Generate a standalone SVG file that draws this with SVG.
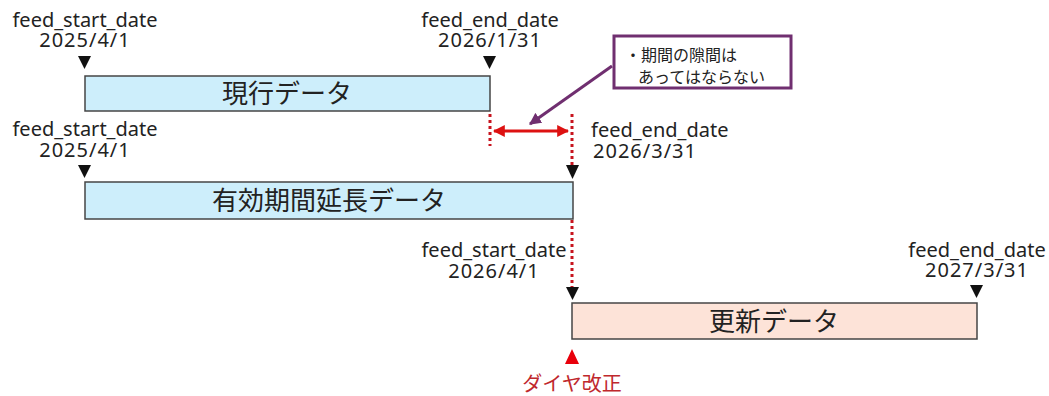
<svg xmlns="http://www.w3.org/2000/svg" width="1049" height="396" viewBox="0 0 1049 396">
<defs>
<style>
.lbl{font-family:"Noto Sans","Noto Sans CJK JP",sans-serif;font-size:20px;fill:#222;}
.dt{letter-spacing:1px;}
.bar-t{font-family:"Noto Sans CJK JP","Noto Sans",sans-serif;font-size:26px;fill:#222;text-anchor:middle;}
.blue{fill:#cdeefb;stroke:#454545;stroke-width:1.5;}
.pink{fill:#fde3d8;stroke:#454545;stroke-width:1.5;}
.tri{fill:#111;}
.dot{stroke:#c8141e;stroke-width:3;stroke-dasharray:3 3;fill:none;}
.note{font-family:"Noto Sans CJK JP",sans-serif;font-size:16px;fill:#222;}
</style>
<marker id="ra" viewBox="0 0 10 10" refX="9" refY="5" markerWidth="4" markerHeight="4" orient="auto-start-reverse">
<path d="M0,0 L10,5 L0,10 z" fill="#dd1111"/>
</marker>
<marker id="pa" viewBox="0 0 10 10" refX="9" refY="5" markerWidth="4" markerHeight="4" orient="auto">
<path d="M0,0 L10,5 L0,10 z" fill="#702f70"/>
</marker>
</defs>
<rect width="1049" height="396" fill="#fff"/>
<g id="connectors">
<line class="dot" x1="490" y1="114" x2="490" y2="146"/>
<line class="dot" x1="572" y1="114" x2="572" y2="172"/>
<line class="dot" x1="572" y1="220" x2="572" y2="294"/>
<line x1="494" y1="131" x2="568" y2="131" stroke="#dd1111" stroke-width="3" marker-start="url(#ra)" marker-end="url(#ra)"/>
<line x1="612" y1="66" x2="530" y2="124" stroke="#702f70" stroke-width="3" marker-end="url(#pa)"/>
</g>
<g id="current">
<text class="lbl" x="85" y="27" text-anchor="middle">feed_start_date</text>
<text class="lbl dt" x="85" y="47" text-anchor="middle">2025/4/1</text>
<path class="tri" d="M78,56 L91,56 L84.5,69 z"/>
<text class="lbl" x="490" y="27" text-anchor="middle">feed_end_date</text>
<text class="lbl dt" x="490" y="47" text-anchor="middle">2026/1/31</text>
<path class="tri" d="M483,56 L496,56 L489.5,69 z"/>
<rect class="blue" x="85" y="76" width="405" height="35"/>
<text class="bar-t" x="287" y="103">現行データ</text>
</g>
<g id="note">
<rect x="614" y="36" width="177" height="52" fill="#fff" stroke="#702f70" stroke-width="3"/>
<text class="note" x="625" y="61">・期間の隙間は</text>
<text class="note" x="638" y="83">あってはならない</text>
</g>
<g id="extended">
<text class="lbl" x="85" y="136" text-anchor="middle">feed_start_date</text>
<text class="lbl dt" x="85" y="157" text-anchor="middle">2025/4/1</text>
<path class="tri" d="M78,165 L91,165 L84.5,178 z"/>
<text class="lbl" x="591" y="137">feed_end_date</text>
<text class="lbl dt" x="593" y="158">2026/3/31</text>
<path class="tri" d="M566,165 L579,165 L572.5,179 z"/>
<rect class="blue" x="85" y="182" width="488" height="37"/>
<text class="bar-t" x="329" y="210">有効期間延長データ</text>
</g>
<g id="updated">
<text class="lbl" x="494" y="257" text-anchor="middle">feed_start_date</text>
<text class="lbl dt" x="494" y="278" text-anchor="middle">2026/4/1</text>
<path class="tri" d="M566,287 L579,287 L572.5,300 z"/>
<text class="lbl" x="977" y="257" text-anchor="middle">feed_end_date</text>
<text class="lbl dt" x="977" y="277" text-anchor="middle">2027/3/31</text>
<path class="tri" d="M970,285 L983,285 L976.5,298 z"/>
<rect class="pink" x="572" y="303" width="405" height="36"/>
<text class="bar-t" x="774" y="331">更新データ</text>
</g>
<g id="revision">
<path d="M565,364 L579,364 L572,349 z" fill="#e8000b"/>
<text x="572" y="391" text-anchor="middle" font-family="'Noto Sans CJK JP',sans-serif" font-size="20" fill="#c0282d">ダイヤ改正</text>
</g>
</svg>
